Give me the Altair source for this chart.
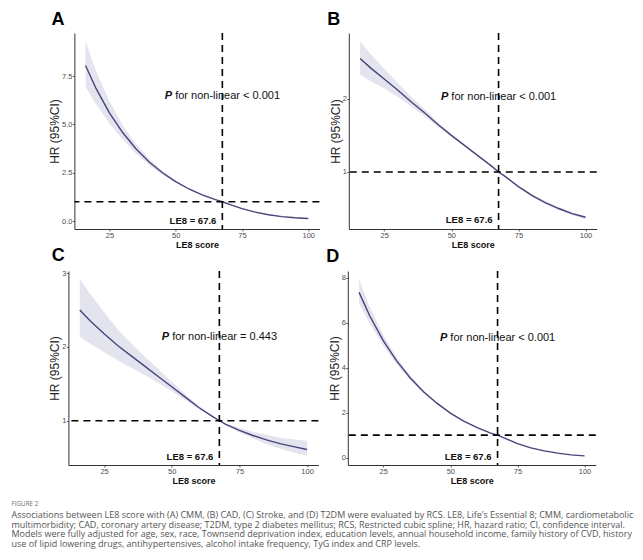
import altair as alt
import pandas as pd

# ---- data ----
x_le8 = [16, 20, 25, 30, 35, 40, 45, 50, 55, 60, 65, 67.6, 70, 75, 80, 85, 90, 95, 100]

a_hr = [8.05, 6.85, 5.60, 4.58, 3.74, 3.06, 2.50, 2.04, 1.66, 1.36, 1.11, 1.00, 0.88, 0.64, 0.46, 0.33, 0.23, 0.17, 0.13]
a_lo = [6.95, 6.05, 5.05, 4.22, 3.50, 2.90, 2.40, 1.98, 1.62, 1.34, 1.10, 1.00, 0.87, 0.62, 0.44, 0.31, 0.21, 0.15, 0.11]
a_hi = [9.30, 7.75, 6.20, 4.97, 3.99, 3.22, 2.60, 2.10, 1.70, 1.38, 1.12, 1.00, 0.89, 0.66, 0.48, 0.35, 0.25, 0.19, 0.15]

b_hr = [2.55, 2.42, 2.27, 2.12, 1.96, 1.81, 1.65, 1.50, 1.36, 1.22, 1.08, 1.00, 0.94, 0.80, 0.68, 0.58, 0.50, 0.43, 0.38]
b_lo = [2.33, 2.24, 2.14, 2.03, 1.90, 1.76, 1.62, 1.48, 1.35, 1.21, 1.08, 1.00, 0.93, 0.79, 0.66, 0.56, 0.48, 0.41, 0.355]
b_hi = [2.78, 2.61, 2.41, 2.22, 2.03, 1.86, 1.68, 1.52, 1.37, 1.23, 1.08, 1.00, 0.95, 0.81, 0.70, 0.60, 0.52, 0.45, 0.40]

c_hr = [2.50, 2.35, 2.18, 2.02, 1.88, 1.74, 1.60, 1.46, 1.32, 1.18, 1.06, 1.00, 0.95, 0.87, 0.80, 0.74, 0.69, 0.65, 0.61]
c_lo = [2.14, 2.04, 1.93, 1.82, 1.72, 1.62, 1.51, 1.40, 1.28, 1.16, 1.05, 1.00, 0.94, 0.84, 0.76, 0.68, 0.62, 0.57, 0.525]
c_hi = [2.92, 2.71, 2.47, 2.24, 2.05, 1.87, 1.70, 1.53, 1.36, 1.20, 1.07, 1.00, 0.96, 0.90, 0.85, 0.81, 0.77, 0.75, 0.73]

d_hr = [7.35, 6.30, 5.20, 4.30, 3.55, 2.93, 2.42, 1.98, 1.62, 1.33, 1.09, 1.00, 0.88, 0.62, 0.43, 0.30, 0.20, 0.12, 0.075]
d_lo = [6.85, 5.95, 4.98, 4.15, 3.45, 2.86, 2.38, 1.95, 1.60, 1.32, 1.09, 1.00, 0.87, 0.61, 0.42, 0.29, 0.19, 0.11, 0.06]
d_hi = [7.93, 6.70, 5.45, 4.46, 3.66, 3.00, 2.46, 2.01, 1.64, 1.34, 1.10, 1.00, 0.89, 0.63, 0.44, 0.31, 0.21, 0.13, 0.09]

ref_le8 = 67.6
ref_hr = 1
x_ticks = [25, 50, 75, 100]
a_ticks = [0, 2.5, 5, 7.5]
b_ticks = [1, 2]
c_ticks = [1, 2, 3]
d_ticks = [0, 2, 4, 6, 8]
letters = ["A", "B", "C", "D"]
p_values = ["< 0.001", "< 0.001", "= 0.443", "< 0.001"]
ref_label = "LE8 = 67.6"
x_title = "LE8 score"
y_title = "HR (95%CI)"

caption_head = "FIGURE 2"
caption_lines = [
    "Associations between LE8 score with (A) CMM, (B) CAD, (C) Stroke, and (D) T2DM were evaluated by RCS. LE8, Life\u2019s Essential 8; CMM, cardiometabolic",
    "multimorbidity; CAD, coronary artery disease; T2DM, type 2 diabetes mellitus; RCS, Restricted cubic spline; HR, hazard ratio; CI, confidence interval.",
    "Models were fully adjusted for age, sex, race, Townsend deprivation index, education levels, annual household income, family history of CVD, history",
    "use of lipid lowering drugs, antihypertensives, alcohol intake frequency, TyG index and CRP levels.",
]

# ---- style ----
LINE = "#46447a"
BAND = "#e4e4ef"
SANS = "Liberation Sans, Arial, sans-serif"
X_DOM = [11.8, 104.2]


def panel(letter, hr, lo, hi, ydom, yticks, yfmt, p_text, p_y, lab_y, w, h, toff, tdx):
    df = pd.DataFrame({"x": x_le8, "hr": hr, "lo": lo, "hi": hi})
    xs = alt.Scale(domain=X_DOM, nice=False, zero=False)
    ys = alt.Scale(domain=ydom, nice=False, zero=False)
    xax = alt.Axis(values=x_ticks, title=x_title, format="d")
    yax = alt.Axis(values=yticks, title=y_title, format=yfmt)
    X = lambda f: alt.X(f, type="quantitative", scale=xs, axis=xax)
    Y = lambda f: alt.Y(f, type="quantitative", scale=ys, axis=yax)

    base = alt.Chart(df)
    band = base.mark_area(color=BAND, opacity=1).encode(x=X("x"), y=Y("lo"), y2="hi")
    line = base.mark_line(color=LINE, strokeWidth=1.4).encode(x=X("x"), y=Y("hr"))

    vdf = pd.DataFrame({"x": [ref_le8]})
    hdf = pd.DataFrame({"y": [ref_hr]})
    vrule = alt.Chart(vdf).mark_rule(color="black", strokeWidth=1.6, strokeDash=[7, 5]).encode(x=X("x"))
    hrule = alt.Chart(hdf).mark_rule(color="black", strokeWidth=1.6, strokeDash=[7, 5]).encode(y=Y("y"))

    pdf = pd.DataFrame({"x": [ref_le8], "y": [p_y]})
    ptxt = alt.Chart(pdf).mark_text(text="P", font=SANS, fontSize=11, fontWeight="bold",
                                    fontStyle="italic", align="left", baseline="middle",
                                    dx=-57.5, color="#111").encode(x=X("x"), y=Y("y"))
    rest = alt.Chart(pdf).mark_text(text="for non-linear " + p_text, font=SANS, fontSize=11,
                                    align="left", baseline="middle", dx=-47.2,
                                    color="#111").encode(x=X("x"), y=Y("y"))
    ldf = pd.DataFrame({"x": [ref_le8], "y": [lab_y]})
    lab = alt.Chart(ldf).mark_text(text=ref_label, font=SANS, fontSize=9.5, fontWeight="bold",
                                   align="right", baseline="middle", dx=-6,
                                   color="#111").encode(x=X("x"), y=Y("y"))

    return alt.layer(band, line, vrule, hrule, ptxt, rest, lab).properties(
        width=w, height=h,
        title=alt.TitleParams(letter, anchor="start", frame="bounds", fontSize=18,
                              fontWeight="bold", font=SANS, color="black", dx=tdx, offset=toff),
    )


def spacer(w):
    return alt.Chart(pd.DataFrame({"s": [0]})).mark_rule(color="white").encode(
        x=alt.value(0), x2=alt.value(w), y=alt.value(0)
    ).properties(width=w, height=10)


pA = panel(letters[0], a_hr, a_lo, a_hi, [-0.41, 9.73], a_ticks, ".1f", p_values[0], 6.47, 0.0, 245, 196, 3, 3)
pB = panel(letters[1], b_hr, b_lo, b_hi, [0.22, 2.90], b_ticks, "d", p_values[1], 2.03, 0.337, 248, 196, 3, -2)
pC = panel(letters[2], c_hr, c_lo, c_hi, [0.40, 3.03], c_ticks, "d", p_values[2], 2.13, 0.51, 250, 194, 4.5, 3)
pD = panel(letters[3], d_hr, d_lo, d_hi, [-0.33, 8.30], d_ticks, "d", p_values[3], 5.33, 0.03, 248, 194, 4.5, -2)

row1 = alt.hconcat(spacer(29.3), pA, pB, spacing=6.4)
row2 = alt.hconcat(spacer(29.3), pC, pD, spacing=6.4)

chart = alt.vconcat(row1, row2, spacing=-3).properties(
    padding={"left": 3, "top": 3, "right": 0, "bottom": 0},
    title=alt.TitleParams(
        caption_head, subtitle=caption_lines, orient="bottom", anchor="start", frame="bounds",
        font="Open Sans", fontSize=6.3, fontWeight="normal", color="#707070", offset=16,
        subtitleFont="Open Sans", subtitleFontSize=9.0, subtitleColor="#555555",
        subtitleLineHeight=9.7, subtitlePadding=3.5,
    ),
).configure_view(strokeWidth=0).configure_axis(
    grid=False, domainColor="#333333", domainWidth=1, tickColor="#333333", tickSize=2,
    tickWidth=0.8, labelColor="#4d4d4d", labelFontSize=7.5, labelFont=SANS, labelPadding=0.5,
).configure_axisX(
    titleFont=SANS, titleFontSize=9, titleFontWeight="bold", titleColor="#111111", titlePadding=1,
).configure_axisY(
    titleFont=SANS, titleFontSize=12, titleFontWeight="normal", titleColor="#222222", titlePadding=0,
)

chart.save("out.html", embed_options={"renderer": "svg", "actions": False})
